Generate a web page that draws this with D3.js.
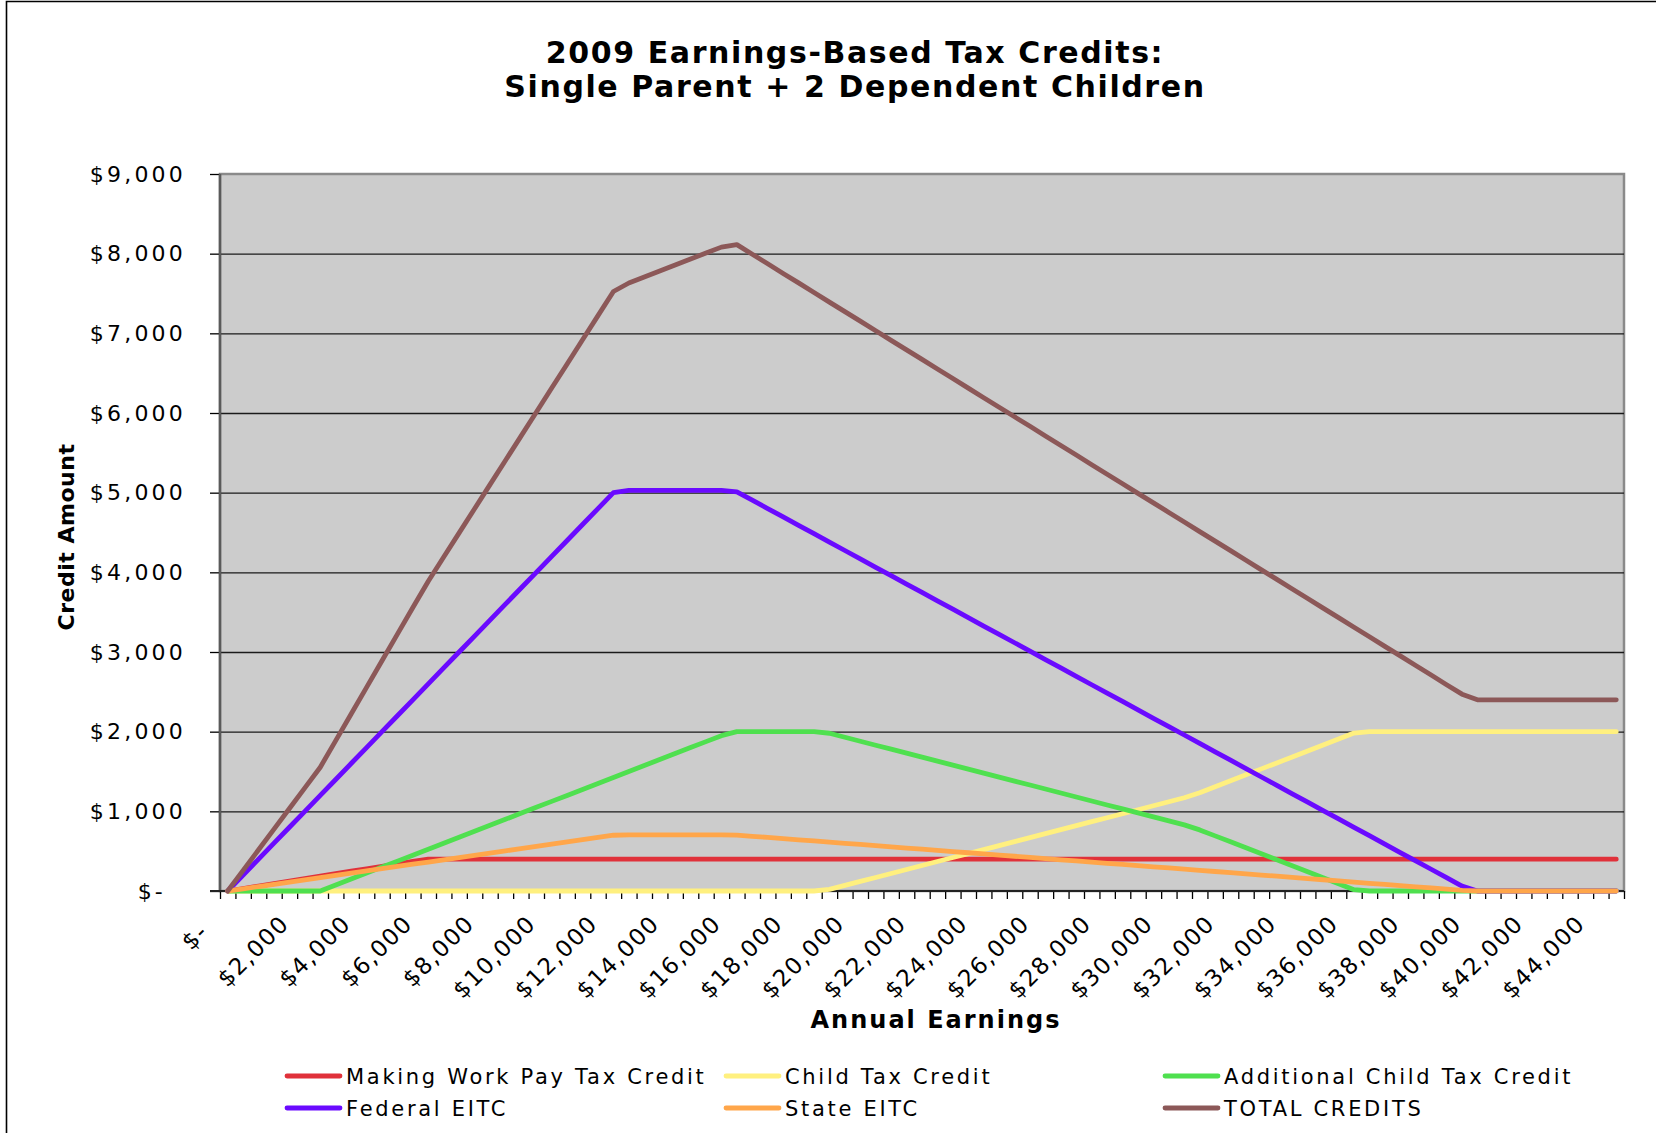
<!DOCTYPE html>
<html>
<head>
<meta charset="utf-8">
<script src="https://cdn.jsdelivr.net/npm/d3@7"></script>
<style>
  body { margin: 0; background: #fff; }
  svg { display: block; }
  text { font-family: "DejaVu Sans", Verdana, sans-serif; fill: #000; }
</style>
</head>
<body>
<div id="chart"></div>
<script>
// Annual earnings, one category every $500
var earnings = [
    0, 500, 1000, 1500, 2000, 2500, 3000, 3500, 4000, 4500,
    5000, 5500, 6000, 6500, 7000, 7500, 8000, 8500, 9000, 9500,
    10000, 10500, 11000, 11500, 12000, 12500, 13000, 13500, 14000, 14500,
    15000, 15500, 16000, 16500, 17000, 17500, 18000, 18500, 19000, 19500,
    20000, 20500, 21000, 21500, 22000, 22500, 23000, 23500, 24000, 24500,
    25000, 25500, 26000, 26500, 27000, 27500, 28000, 28500, 29000, 29500,
    30000, 30500, 31000, 31500, 32000, 32500, 33000, 33500, 34000, 34500,
    35000, 35500, 36000, 36500, 37000, 37500, 38000, 38500, 39000, 39500,
    40000, 40500, 41000, 41500, 42000, 42500, 43000, 43500, 44000, 44500,
    45000
];

var makingWorkPay = [
    0, 31, 62, 93, 124, 155, 186, 217, 248, 279,
    310, 341, 372, 400, 400, 400, 400, 400, 400, 400,
    400, 400, 400, 400, 400, 400, 400, 400, 400, 400,
    400, 400, 400, 400, 400, 400, 400, 400, 400, 400,
    400, 400, 400, 400, 400, 400, 400, 400, 400, 400,
    400, 400, 400, 400, 400, 400, 400, 400, 400, 400,
    400, 400, 400, 400, 400, 400, 400, 400, 400, 400,
    400, 400, 400, 400, 400, 400, 400, 400, 400, 400,
    400, 400, 400, 400, 400, 400, 400, 400, 400, 400,
    400
];

var childTaxCredit = [
    0, 0, 0, 0, 0, 0, 0, 0, 0, 0,
    0, 0, 0, 0, 0, 0, 0, 0, 0, 0,
    0, 0, 0, 0, 0, 0, 0, 0, 0, 0,
    0, 0, 0, 0, 0, 0, 0, 0, 0, 20,
    70, 120, 170, 220, 270, 320, 370, 420, 470, 520,
    570, 620, 670, 720, 770, 820, 870, 920, 970, 1020,
    1070, 1120, 1170, 1233, 1308, 1383, 1458, 1533, 1608, 1683,
    1758, 1833, 1908, 1983, 2000, 2000, 2000, 2000, 2000, 2000,
    2000, 2000, 2000, 2000, 2000, 2000, 2000, 2000, 2000, 2000,
    2000
];

var additionalChildTaxCredit = [
    0, 0, 0, 0, 0, 0, 0, 75, 150, 225,
    300, 375, 450, 525, 600, 675, 750, 825, 900, 975,
    1050, 1125, 1200, 1275, 1350, 1425, 1500, 1575, 1650, 1725,
    1800, 1875, 1950, 2000, 2000, 2000, 2000, 2000, 2000, 1980,
    1930, 1880, 1830, 1780, 1730, 1680, 1630, 1580, 1530, 1480,
    1430, 1380, 1330, 1280, 1230, 1180, 1130, 1080, 1030, 980,
    930, 880, 830, 767, 692, 617, 542, 467, 392, 317,
    242, 167, 92, 17, 0, 0, 0, 0, 0, 0,
    0, 0, 0, 0, 0, 0, 0, 0, 0, 0,
    0
];

var federalEitc = [
    0, 200, 400, 600, 800, 1000, 1200, 1400, 1600, 1800,
    2000, 2200, 2400, 2600, 2800, 3000, 3200, 3400, 3600, 3800,
    4000, 4200, 4400, 4600, 4800, 5000, 5028, 5028, 5028, 5028,
    5028, 5028, 5028, 5011, 4906, 4801, 4695, 4590, 4485, 4379,
    4274, 4169, 4063, 3958, 3853, 3748, 3642, 3537, 3432, 3326,
    3221, 3116, 3011, 2905, 2800, 2695, 2589, 2484, 2379, 2273,
    2168, 2063, 1958, 1852, 1747, 1642, 1536, 1431, 1326, 1220,
    1115, 1010, 905, 799, 694, 589, 483, 378, 273, 167,
    62, 0, 0, 0, 0, 0, 0, 0, 0, 0,
    0
];

var stateEitc = [
    0, 28, 56, 84, 112, 140, 168, 196, 224, 252,
    280, 308, 336, 364, 392, 420, 448, 476, 504, 532,
    560, 588, 616, 644, 672, 700, 704, 704, 704, 704,
    704, 704, 704, 702, 687, 672, 657, 643, 628, 613,
    598, 584, 569, 554, 539, 525, 510, 495, 480, 466,
    451, 436, 422, 407, 392, 377, 362, 348, 333, 318,
    304, 289, 274, 259, 245, 230, 215, 200, 186, 171,
    156, 141, 127, 112, 97, 82, 68, 53, 38, 23,
    9, 0, 0, 0, 0, 0, 0, 0, 0, 0,
    0
];

var totalCredits = [
    0, 259, 518, 777, 1036, 1295, 1554, 1888, 2222, 2556,
    2890, 3224, 3558, 3889, 4192, 4495, 4798, 5101, 5404, 5707,
    6010, 6313, 6616, 6919, 7222, 7525, 7632, 7707, 7782, 7857,
    7932, 8007, 8082, 8113, 7993, 7873, 7752, 7633, 7513, 7392,
    7272, 7153, 7032, 6912, 6792, 6673, 6552, 6432, 6312, 6192,
    6072, 5952, 5833, 5712, 5592, 5472, 5351, 5232, 5112, 4991,
    4872, 4752, 4632, 4511, 4392, 4272, 4151, 4031, 3912, 3791,
    3671, 3551, 3432, 3311, 3191, 3071, 2951, 2831, 2711, 2590,
    2471, 2400, 2400, 2400, 2400, 2400, 2400, 2400, 2400, 2400,
    2400
];

var seriesNames = ["Making Work Pay Tax Credit", "Child Tax Credit", "Additional Child Tax Credit",
    "Federal EITC", "State EITC", "TOTAL CREDITS"];
var seriesColors = ["#e0313a", "#fff07f", "#4fe04f", "#6a0aff", "#ffa64a", "#8c5858"];

var yTicks = [0, 1000, 2000, 3000, 4000, 5000, 6000, 7000, 8000, 9000];
var yTickLabels = ["$-", "$1,000", "$2,000", "$3,000", "$4,000", "$5,000", "$6,000", "$7,000", "$8,000", "$9,000"];
var xTickLabels = ["$-", "$2,000", "$4,000", "$6,000", "$8,000", "$10,000", "$12,000", "$14,000", "$16,000",
    "$18,000", "$20,000", "$22,000", "$24,000", "$26,000", "$28,000", "$30,000", "$32,000", "$34,000",
    "$36,000", "$38,000", "$40,000", "$42,000", "$44,000"];

var series = [makingWorkPay, childTaxCredit, additionalChildTaxCredit, federalEitc, stateEitc, totalCredits]
    .map(function (vals, k) {
        return {
            name: seriesNames[k],
            color: seriesColors[k],
            points: vals.map(function (v, i) { return { e: earnings[i], v: v }; })
        };
    });

var W = 1656, H = 1133;
var margin = { top: 174, right: 32, bottom: 242, left: 220 },
    width = W - margin.left - margin.right,
    height = H - margin.top - margin.bottom;

var root = d3.select("#chart").append("svg")
    .attr("width", W)
    .attr("height", H);

root.append("rect").attr("width", W).attr("height", H).attr("fill", "#fff");

// chart frame (cut off on the right and bottom)
root.append("path")
    .attr("d", "M6.5," + H + "V1.5H" + W)
    .attr("fill", "none")
    .attr("stroke", "#000")
    .attr("stroke-width", 1.6);

// Title
var title = root.append("text")
    .attr("text-anchor", "middle")
    .style("font-size", "30px")
    .style("font-weight", "bold")
    .style("letter-spacing", "1.6px");
title.append("tspan").attr("x", 855).attr("y", 63).text("2009 Earnings-Based Tax Credits:");
title.append("tspan").attr("x", 855).attr("y", 97).text("Single Parent + 2 Dependent Children");

var svg = root.append("g")
    .attr("transform", "translate(" + margin.left + "," + margin.top + ")");

// Scales
var x = d3.scaleBand().domain(earnings).range([0, width]);
var xEdge = d3.scaleLinear().domain([0, earnings.length]).range([0, width]);
var y = d3.scaleLinear().domain([0, 9000]).range([height, 0]);

// Plot area
svg.append("rect")
    .attr("width", width)
    .attr("height", height)
    .attr("fill", "#cccccc")
    .attr("stroke", "#8a8a8a")
    .attr("stroke-width", 2.5);

// Gridlines
var grid = svg.append("g")
    .attr("class", "grid")
    .call(d3.axisLeft(y).tickValues(yTicks.slice(1, -1)).tickSize(-width).tickFormat(""));
grid.select(".domain").remove();
grid.selectAll("line").attr("stroke", "#1a1a1a").attr("stroke-width", 1.4);

// Y axis
var yAxis = svg.append("g")
    .attr("class", "y axis")
    .call(d3.axisLeft(y).tickValues(yTicks).tickSize(10).tickPadding(24)
        .tickFormat(function (d, i) { return yTickLabels[i]; }));
yAxis.select(".domain").remove();
yAxis.selectAll(".tick line").attr("stroke", "#000").attr("stroke-width", 1.3);
yAxis.selectAll(".tick text")
    .style("font-size", "22px")
    .style("letter-spacing", "3.2px")
    .attr("fill", "#111")
    .attr("dx", function (d) { return d === 0 ? -20 : 0; });

// X axis: tick marks on category edges
var xAxis = svg.append("g")
    .attr("class", "x axis")
    .attr("transform", "translate(0," + height + ")")
    .call(d3.axisBottom(xEdge).tickValues(d3.range(earnings.length + 1)).tickSize(8).tickFormat(""));
xAxis.select(".domain").remove();
xAxis.selectAll(".tick line").attr("stroke", "#000").attr("stroke-width", 1.3);

// axis lines
svg.append("line")
    .attr("x1", 0).attr("x2", 0).attr("y1", 0).attr("y2", height)
    .attr("stroke", "#5a5a5a").attr("stroke-width", 2.5);
svg.append("line")
    .attr("x1", -10).attr("x2", width).attr("y1", height).attr("y2", height)
    .attr("stroke", "#222").attr("stroke-width", 2);

// rotated category labels, every 4th category
svg.selectAll(".xlabel")
    .data(xTickLabels)
    .enter().append("text")
    .attr("class", "xlabel")
    .attr("text-anchor", "end")
    .attr("transform", function (d, i) {
        var cx = x(earnings[i * 4]) + x.bandwidth() / 2 + (i === 0 ? -18 : 1);
        var cy = height + (i === 0 ? 42 : 34);
        return "translate(" + cx + "," + cy + ") rotate(-45)";
    })
    .style("font-size", "23px")
    .style("letter-spacing", "1.5px")
    .attr("fill", "#111")
    .text(function (d) { return d; });

// Axis titles
svg.append("text")
    .attr("x", 936 - margin.left)
    .attr("y", 1028 - margin.top)
    .attr("text-anchor", "middle")
    .style("font-size", "24px")
    .style("font-weight", "bold")
    .style("letter-spacing", "2px")
    .text("Annual Earnings");

svg.append("text")
    .attr("transform", "translate(" + (74 - margin.left) + "," + (537 - margin.top) + ") rotate(-90)")
    .attr("text-anchor", "middle")
    .style("font-size", "22px")
    .style("font-weight", "bold")
    .style("letter-spacing", "0.5px")
    .text("Credit Amount");

// Lines
var line = d3.line()
    .x(function (d) { return x(d.e) + x.bandwidth() / 2; })
    .y(function (d) { return y(d.v); });

svg.selectAll(".series")
    .data(series)
    .enter().append("path")
    .attr("class", "series")
    .attr("fill", "none")
    .attr("stroke", function (d) { return d.color; })
    .attr("stroke-width", 4.8)
    .attr("stroke-linejoin", "round")
    .attr("stroke-linecap", "round")
    .attr("d", function (d) { return line(d.points); });

// Legend, 3 columns x 2 rows
var legendCols = [285, 724, 1163], legendRows = [1076, 1108];
var legend = root.selectAll(".legend")
    .data(series)
    .enter().append("g")
    .attr("class", "legend")
    .attr("transform", function (d, i) {
        return "translate(" + legendCols[i % 3] + "," + legendRows[Math.floor(i / 3)] + ")";
    });
legend.append("line")
    .attr("x1", 2).attr("x2", 55)
    .attr("stroke", function (d) { return d.color; })
    .attr("stroke-width", 4.8)
    .attr("stroke-linecap", "round");
legend.append("text")
    .attr("x", 61)
    .attr("dy", "0.36em")
    .style("font-size", "21px")
    .style("letter-spacing", "2.7px")
    .attr("fill", "#111")
    .text(function (d) { return d.name; });
</script>
</body>
</html>
